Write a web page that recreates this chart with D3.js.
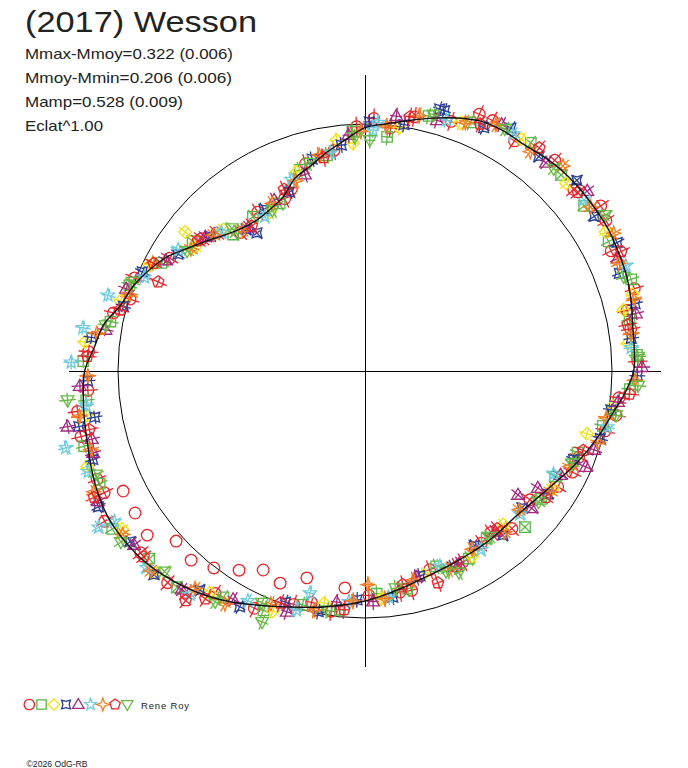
<!DOCTYPE html>
<html>
<head>
<meta charset="utf-8">
<script src="https://cdnjs.cloudflare.com/ajax/libs/d3/7.8.5/d3.min.js"></script>
<style>
  body { margin: 0; background: #fff; }
  svg { display: block; }
  text { font-family: "Liberation Sans", Arial, sans-serif; fill: #222; }
</style>
</head>
<body>
<div id="chart"></div>
<script>
// phase in degrees (clockwise from top), radius relative to the mean circle
const fitCurve = [[0,.985],[5,1.005],[10,1.03],[15,1.06],[20,1.09],[25,1.115],[30,1.122],[35,1.12],[40,1.13],[45,1.138],
  [50,1.14],[55,1.14],[60,1.14],[65,1.133],[70,1.127],[75,1.115],[80,1.1],[85,1.094],[90,1.088],[95,1.055],[100,1.015],
  [105,.985],[110,.955],[115,.925],[120,.895],[125,.872],[130,.856],[135,.847],[140,.848],[145,.851],[150,.852],[155,.856],
  [160,.862],[165,.873],[170,.89],[175,.91],[180,.931],[185,.95],[190,.97],[195,.99],[200,1.015],[205,1.045],[210,1.08],
  [215,1.112],[220,1.14],[225,1.163],[230,1.182],[235,1.192],[240,1.197],[245,1.19],[250,1.177],[255,1.162],[260,1.153],
  [265,1.145],[270,1.135],[275,1.1],[280,1.075],[285,1.025],[290,1.0],[295,.965],[300,.925],[305,.87],[310,.824],[315,.785],
  [320,.76],[325,.752],[330,.76],[335,.78],[340,.83],[345,.858],[350,.898],[355,.938]];

const redCircles = [[2,1.023],[6,.99],[11,1.048],[19,1.069],[24,1.138],[27,1.138],[33,1.111],[42,1.148],[49,1.12],[55,1.165],
  [58,1.15],[64,1.109],[73,1.14],[77,1.089],[81,1.089],[88,1.105],[96,1.034],[100,1.032],[104,1.002],[112,.933],[116,.934],
  [121,.91],[128,.847],[137,.872],[142,.829],[146,.841],[153,.869],[162,.846],[168,.908],[171,.906],[179,.909],[188,.982],
  [193,.962],[197,.988],[205,1.06],[214,1.086],[219,1.154],[223,1.172],[231,1.169],[240,1.217],[245,1.165],[248,1.17],
  [257,1.18],[262,1.175],[266,1.125],[274,1.122],[283,1.045],[287,.995],[292,1.006],[300,.913],[309,.851],[313,.82],
  [318,.755],[326,.776],[335,.77],[338,.795],[344,.873],[352,.902],[358,.99]];
const redRejected = [[185.3,.882],[195.7,.87],[201.8,.925],[207.1,.905],[212.3,.954],[217.5,1.005],[222.6,1.04],[228,1.029],
  [233,1.104],[238.3,1.094],[243.6,1.093]];
const greenSquares = [[5.4,.952],[14,1.064],[23,1.093],[36,1.142],[45,1.123],[53,1.111],[62,1.117],[71,1.14],[79,1.091],
  [86.6,1.103],[93.9,1.075],[103,.988],[111,.922],[119,.881],[126,.881],[134.3,.905],[144,.838],[151,.868],[160,.842],
  [169,.898],[177,.903],[186,.972],[195,.98],[203,1.053],[212,1.081],[221,1.16],[229,1.158],[238,1.207],[247,1.167],
  [255,1.177],[264,1.135],[272,1.141],[281,1.05],[290,1.015],[298,.933],[307,.874],[316,.768],[324,.772],[333,.762],
  [342,.856],[350,.886],[357,.972]];
const yellowDiamonds = [[8,.995],[21,1.075],[34,1.132],[47,1.114],[60,1.125],[74,1.127],[76.7,1.076],[84,1.07],[98,1.013],
  [105.8,.934],[122,.898],[138,.837],[150,.867],[164,.859],[176,.924],[190,.955],[201,1.041],[215,1.097],[226,1.179],
  [237,1.174],[251,1.189],[261,1.141],[275.9,1.14],[286,1.03],[296,.971],[306,.851],[307.7,.92],[315,.81],[329,.748],
  [341,.851],[353,.942],[357,.924]];
const blueStars = [[1,1.009],[9,1.01],[15.9,1.103],[17,1.102],[26,1.096],[31,1.147],[39,1.118],[48,1.154],[56,1.12],
  [63,1.146],[69,1.103],[76,1.127],[83,1.086],[91,1.103],[99,1.008],[106,.991],[113,.917],[124,.892],[131,.844],[140,.868],
  [148,.834],[156,.869],[165,.858],[173,.922],[182,.927],[191,.992],[199,.99],[208,1.081],[217,1.111],[226,1.187],
  [234,1.175],[243,1.211],[252,1.159],[259,1.18],[260.3,1.11],[268,1.124],[277,1.116],[285,1.013],[294,.987],[302,.893],
  [311,.831],[320,.748],[322,.71],[328,.772],[337,.788],[346,.884],[354,.92]];
const purpleTriangles = [[7,1.04],[16,1.056],[29,1.141],[41,1.117],[51,1.158],[66,1.12],[78,1.121],[89.2,1.121],[97,1.032],
  [109,.981],[113.5,.975],[118,.897],[124.1,.845],[129,.797],[129.5,.874],[141,.837],[154,.87],[166,.861],[178,.934],
  [187,.943],[198,1.025],[210,1.068],[220,1.155],[233,1.17],[244,1.203],[253.2,1.15],[256,1.14],[259.4,1.225],[267,1.156],
  [279,1.064],[289,1.023],[299,.922],[310,.844],[321,.748],[332,.783],[343,.832],[356,.958]];
const cyanStars = [[1.9,.976],[3,1.007],[18,1.068],[32,1.131],[52,1.125],[68,1.139],[85,1.082],[103,1.006],[118.7,.87],
  [132.7,.854],[147,.863],[159,.846],[174,.921],[184,.936],[193.9,.926],[196,1.007],[207,1.044],[218,1.149],[228,1.19],
  [239,1.184],[239.6,1.25],[250,1.192],[255.6,1.25],[263,1.138],[271.7,1.19],[278.7,1.155],[286.4,1.085],[293,.97],
  [303,.902],[314,.808],[327,.745],[339,.83],[351,.894]];
const orangeStars = [[5,.995],[12,1.057],[22,1.085],[28,1.129],[37,1.112],[44,1.154],[54,1.13],[61,1.151],[67,1.116],
  [75,1.127],[82,1.088],[92,1.094],[101,.995],[107,.988],[115,.915],[123,.896],[132,.84],[139,.863],[149,.842],[157,.873],
  [167,.868],[175,.925],[179.2,.865],[183,.932],[192,.99],[202,1.017],[211,1.101],[218,1.117],[227,1.186],[236,1.183],
  [246,1.202],[254,1.155],[261,1.171],[269,1.122],[278,1.097],[288,1.0],[297,.964],[305,.86],[312,.823],[319,.755],
  [331,.776],[340,.82],[348,.894],[359,.971]];
const redPentagons = [[10,1.045],[25,1.103],[38,1.146],[50,1.125],[65,1.145],[80,1.08],[95,1.075],[110,.94],[125,.892],
  [140,.833],[155,.874],[161,.907],[170,.878],[185,.97],[200,1.0],[215,1.127],[218,1.18],[230,1.17],[245,1.21],[258,1.141],
  [273,1.126],[284,1.022],[293.3,.912],[297,.96],[308,.857],[322,.745],[336,.805],[349,.88]];
const greenTriangles = [[1.2,.935],[15,1.075],[30,1.132],[43,1.12],[57,1.16],[70,1.115],[87,1.107],[93.1,1.107],[100,1.032],
  [114,.919],[127,.88],[143,.84],[155,.9],[158,.875],[172,.888],[189,.981],[202.3,1.098],[204,1.027],[213,1.114],
  [225,1.148],[235,1.207],[249,1.168],[264.4,1.21],[280,1.065],[291,1.008],[304,.869],[317,.79],[330,.75],[345,.873],
  [357.5,.948]];

// radial error of each session (same units as radius)
const sessionErrors = [.04, .034, .032, .032, .034, .032, .034, .038, .034];

const textLines = ["Mmax-Mmoy=0.322 (0.006)", "Mmoy-Mmin=0.206 (0.006)", "Mamp=0.528 (0.009)", "Eclat^1.00"];
const textWidths = [208, 207, 158, 78];

const series = [
  { data: redCircles,      shape: "circle",   color: "#e8262a" },
  { data: greenSquares,    shape: "square",   color: "#5ab646" },
  { data: yellowDiamonds,  shape: "diamond",  color: "#f0e21c" },
  { data: blueStars,       shape: "star4x",   color: "#2b3d97" },
  { data: purpleTriangles, shape: "triangle", color: "#a3287c" },
  { data: cyanStars,       shape: "star5",    color: "#6dcbe0" },
  { data: orangeStars,     shape: "star4",    color: "#f47c20" },
  { data: redPentagons,    shape: "pentagon", color: "#e8262a" },
  { data: greenTriangles,  shape: "triDown",  color: "#68bb45" }
];

const width = 688, height = 768;
const cx = 365, cy = 371;
const rScale = d3.scaleLinear().domain([0, 1]).range([0, 247]);
const rad = d => d * Math.PI / 180;
const pos = (a, r) => [cx + rScale(r) * Math.sin(rad(a)), cy - rScale(r) * Math.cos(rad(a))];

// marker outlines, s = half size in px
function shapePath(kind, s) {
  const p = d3.path();
  const poly = pts => { pts.forEach((q, i) => i ? p.lineTo(q[0], q[1]) : p.moveTo(q[0], q[1])); p.closePath(); };
  const star = (n, ro, ri, rot) => {
    const pts = [];
    for (let i = 0; i < 2 * n; i++) {
      const a = rot + i * Math.PI / n, rr = i % 2 ? ri : ro;
      pts.push([rr * Math.sin(a), -rr * Math.cos(a)]);
    }
    poly(pts);
  };
  switch (kind) {
    case "circle": p.arc(0, 0, s, 0, 2 * Math.PI); break;
    case "square": poly([[-s * .9, -s * .9], [s * .9, -s * .9], [s * .9, s * .9], [-s * .9, s * .9]]); break;
    case "diamond": poly([[0, -s * 1.1], [s * 1.1, 0], [0, s * 1.1], [-s * 1.1, 0]]); break;
    case "star4x": star(4, s * 1.2, s * .6, Math.PI / 4); break;
    case "triangle": poly([[0, -s * 1.15], [s * 1.1, s * .75], [-s * 1.1, s * .75]]); break;
    case "star5": star(5, s * 1.2, s * .5, 0); break;
    case "star4": star(4, s * 1.2, s * .45, 0); break;
    case "pentagon": poly(d3.range(5).map(i => [s * 1.05 * Math.sin(i * 2 * Math.PI / 5), -s * 1.05 * Math.cos(i * 2 * Math.PI / 5)])); break;
    case "triDown": poly([[-s * 1.1, -s * .75], [s * 1.1, -s * .75], [0, s * 1.15]]); break;
  }
  return p.toString();
}

const svg = d3.select("#chart").append("svg")
  .attr("width", width)
  .attr("height", height);

// reference circle and axes
svg.append("circle")
  .attr("cx", cx).attr("cy", cy).attr("r", rScale(1))
  .attr("fill", "none").attr("stroke", "#000").attr("stroke-width", 1);
svg.append("line")
  .attr("x1", cx).attr("x2", cx).attr("y1", cy - rScale(1.2)).attr("y2", cy + rScale(1.2))
  .attr("stroke", "#000").attr("shape-rendering", "crispEdges");
svg.append("line")
  .attr("y1", cy).attr("y2", cy).attr("x1", cx - rScale(1.2)).attr("x2", cx + rScale(1.2))
  .attr("stroke", "#000").attr("shape-rendering", "crispEdges");

// sessions
const phaseErr = 1.4;
const markerSize = 5.8;
series.forEach((s, k) => {
  const g = svg.append("g")
    .attr("fill", "none").attr("stroke", s.color).attr("stroke-width", 1.3);
  const e = sessionErrors[k];
  g.selectAll("line.rad").data(s.data).enter().append("line")
    .attr("class", "rad")
    .attr("x1", d => pos(d[0], d[1] - e)[0]).attr("y1", d => pos(d[0], d[1] - e)[1])
    .attr("x2", d => pos(d[0], d[1] + e)[0]).attr("y2", d => pos(d[0], d[1] + e)[1]);
  g.selectAll("line.tan").data(s.data).enter().append("line")
    .attr("class", "tan")
    .attr("x1", d => pos(d[0] - phaseErr, d[1])[0]).attr("y1", d => pos(d[0] - phaseErr, d[1])[1])
    .attr("x2", d => pos(d[0] + phaseErr, d[1])[0]).attr("y2", d => pos(d[0] + phaseErr, d[1])[1]);
  g.selectAll("path").data(s.data).enter().append("path")
    .attr("d", shapePath(s.shape, markerSize))
    .attr("transform", d => `translate(${pos(d[0], d[1])})`);
});

// rejected points of the first session, no error bars
svg.append("g")
  .attr("fill", "none").attr("stroke", series[0].color).attr("stroke-width", 1.3)
  .selectAll("path").data(redRejected).enter().append("path")
  .attr("d", shapePath("circle", markerSize))
  .attr("transform", d => `translate(${pos(d[0], d[1])})`);

// Fourier fit
const line = d3.lineRadial()
  .angle(d => rad(d[0]))
  .radius(d => rScale(d[1]))
  .curve(d3.curveCardinalClosed);
svg.append("path")
  .datum(fitCurve)
  .attr("transform", `translate(${cx},${cy})`)
  .attr("d", line)
  .attr("fill", "none").attr("stroke", "#111").attr("stroke-width", 1.4);

// texts
svg.append("text")
  .attr("x", 25).attr("y", 31.5)
  .attr("font-size", 30)
  .attr("textLength", 232).attr("lengthAdjust", "spacingAndGlyphs")
  .text("(2017) Wesson");
textLines.forEach((t, i) => {
  svg.append("text")
    .attr("x", 25).attr("y", 58.5 + i * 24.3)
    .attr("font-size", 14.5)
    .attr("textLength", textWidths[i]).attr("lengthAdjust", "spacingAndGlyphs")
    .text(t);
});

// legend
series.forEach((s, k) => {
  svg.append("path")
    .attr("d", shapePath(s.shape, 5.2))
    .attr("transform", `translate(${29.3 + k * 12.25},704.5)`)
    .attr("fill", "none").attr("stroke", s.color).attr("stroke-width", 1.3);
});
svg.append("text")
  .attr("x", 141).attr("y", 709)
  .attr("font-size", 9.5)
  .attr("textLength", 48).attr("lengthAdjust", "spacing")
  .text("Rene Roy");
svg.append("text")
  .attr("x", 26.5).attr("y", 767)
  .attr("font-size", 9)
  .attr("textLength", 61).attr("lengthAdjust", "spacingAndGlyphs")
  .text("©2026 OdG-RB");
</script>
</body>
</html>
